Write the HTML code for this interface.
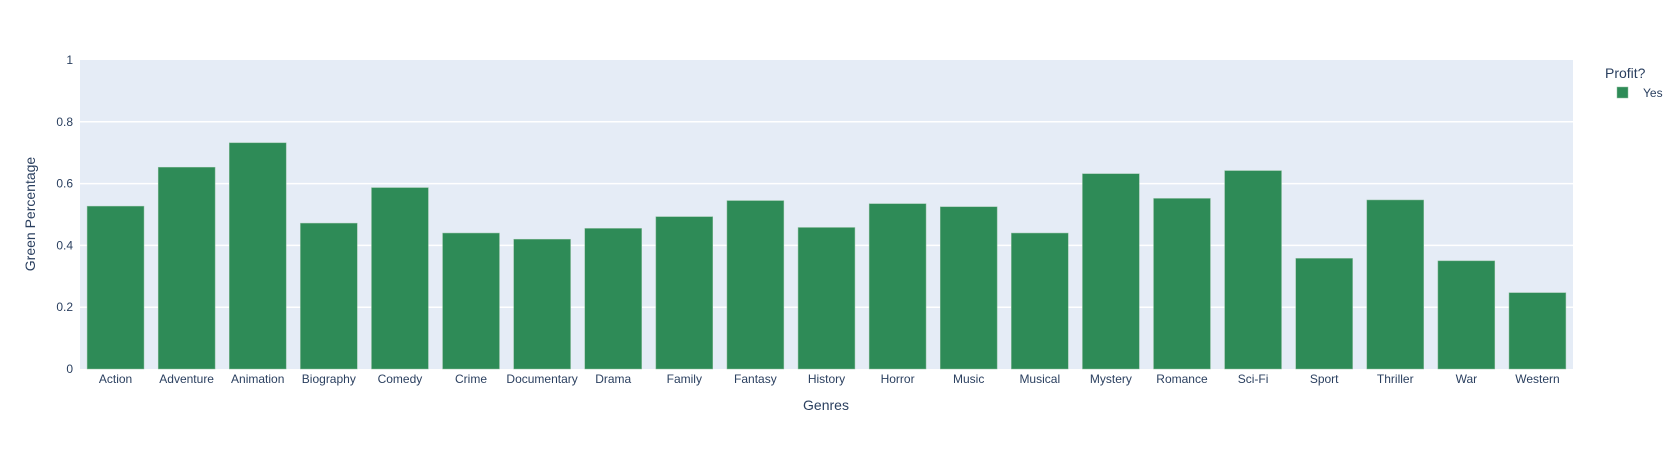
<!DOCTYPE html>
<html><head><meta charset="utf-8"><style>
body{margin:0;background:#fff;font-family:"Liberation Sans",sans-serif}
svg text{fill:#2a3f5f;font-family:"Liberation Sans",sans-serif}
</style></head><body>
<svg id="chart" width="1680" height="450">
<rect x="80" y="60" width="1493" height="309" fill="#e5ecf6"/>
<g id="grid"></g><g id="bars"></g><g id="xticks"></g><g id="yticks"></g>
<text x="826" y="410" text-anchor="middle" font-size="14">Genres</text>
<text transform="translate(35,214) rotate(-90)" text-anchor="middle" font-size="14">Green Percentage</text>
<text x="1605" y="78" font-size="14">Profit?</text>
<g>
<rect x="1617" y="87" width="11" height="11" fill="#2e8b57" stroke="#8fbf9f" stroke-width="0.5"/>
<text x="1643" y="97" font-size="12">Yes</text>
</g>
</svg>
<script>
const categories=["Action","Adventure","Animation","Biography","Comedy","Crime","Documentary","Drama","Family","Fantasy","History","Horror","Music","Musical","Mystery","Romance","Sci-Fi","Sport","Thriller","War","Western"];
const values=[0.527,0.653,0.732,0.472,0.587,0.44,0.42,0.455,0.493,0.545,0.458,0.535,0.525,0.44,0.632,0.552,0.642,0.358,0.547,0.35,0.247];
const yTicks=[0,0.2,0.4,0.6,0.8,1];
const yTickLabels=["0","0.2","0.4","0.6","0.8","1"];
const NS="http://www.w3.org/2000/svg";
const L=80,R=1573,T=60,B=369;
const y=v=>B-(v/1)*(B-T);
const band=(R-L)/categories.length;
const x=i=>L+band*i;
function mk(t,a){const e=document.createElementNS(NS,t);for(const k in a)e.setAttribute(k,a[k]);return e;}
yTicks.forEach((v,i)=>{
 if(v>0&&v<1){const g=mk("line",{x1:L,x2:R,y1:y(v),y2:y(v),stroke:"#fff","stroke-width":1.5});
 
 
 document.getElementById("grid").appendChild(g);}
 const t=mk("text",{x:L-7,y:y(v)+4,"text-anchor":"end","font-size":12});
 t.textContent=yTickLabels[i];
 
 
 document.getElementById("yticks").appendChild(t);
});
categories.forEach((c,i)=>{
 const bw=band*0.8;
 const r=mk("rect",{x:x(i)+band*0.1,y:y(values[i]),width:bw,height:B-y(values[i]),fill:"#2e8b57",stroke:"#8fbf9f","stroke-width":0.5});
 
 
 document.getElementById("bars").appendChild(r);
 const t=mk("text",{x:x(i)+band/2,y:B+14,"text-anchor":"middle","font-size":12});
 t.textContent=c;
 
 
 document.getElementById("xticks").appendChild(t);
});
</script>
</body></html>
